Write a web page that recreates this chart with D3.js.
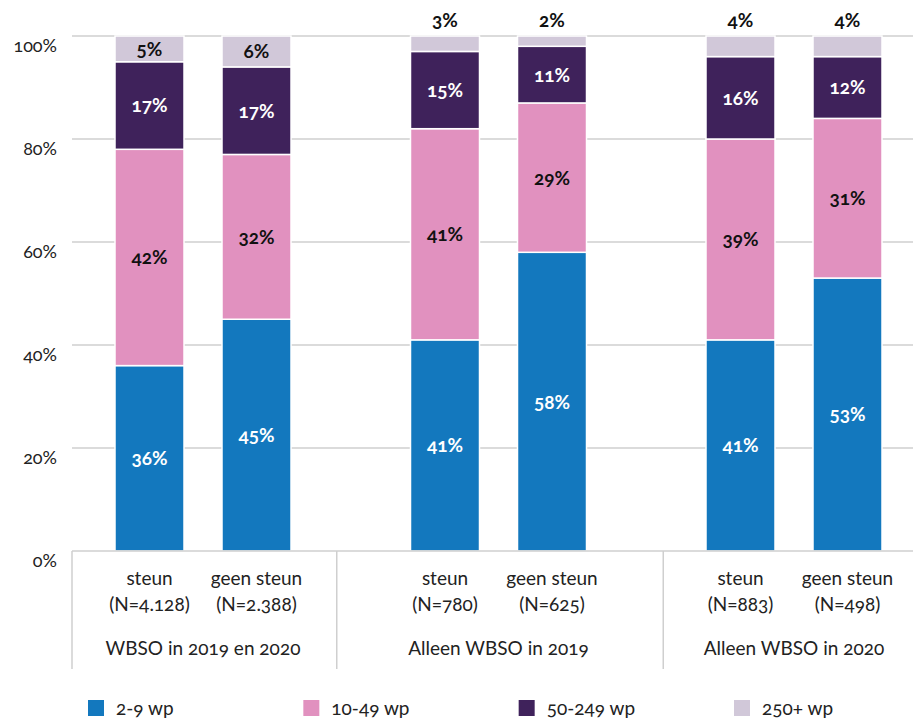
<!DOCTYPE html>
<html><head><meta charset="utf-8">
<script src="https://cdn.jsdelivr.net/npm/d3@7"></script>
<style>body{margin:0;background:#fff} svg{display:block;font-family:Lato, "Open Sans", sans-serif;font-variant-numeric:oldstyle-nums}</style>
</head><body><svg id="c" width="913" height="722"></svg>
<script>
const groups = ["WBSO in 2019 en 2020","Alleen WBSO in 2019","Alleen WBSO in 2020"];
const subCats = ["steun","geen steun"];
const nLabels = ["(N=4.128)","(N=2.388)","(N=780)","(N=625)","(N=883)","(N=498)"];
const seriesNames = ["2-9 wp","10-49 wp","50-249 wp","250+ wp"];
const s2_9 = [36,45,41,58,41,53];
const s10_49 = [42,32,41,29,39,31];
const s50_249 = [17,17,15,11,16,12];
const s250 = [5,6,3,2,4,4];
const yTicks = [0,20,40,60,80,100];
const colors = ["#1378BE","#E191BF","#3F225B","#D1C8D9"];
const labelColors = ["#fff","#111","#fff","#111"];

const series = [s2_9, s10_49, s50_249, s250];
const rows = s2_9.map((_, i) => {
  const r = {i, group: groups[Math.floor(i/2)], sub: subCats[i%2], n: nLabels[i]};
  seriesNames.forEach((k, j) => r[k] = series[j][i]);
  return r;
});
const stacked = d3.stack().keys(seriesNames)(rows);

const svg = d3.select("#c");
const plotLeft = 72, plotRight = 913, y0 = 551, y100 = 36;
const y = d3.scaleLinear().domain([0,100]).range([y0, y100]);
const gx = d3.scalePoint().domain(groups).range([203, 794]);
const sx = d3.scalePoint().domain(subCats).range([-53.5, 53.5]);
const barW = 69;
const xc = d => gx(d.group) + sx(d.sub);
const grid = "#cfcfcf";
const fs = 19;

// gridlines
svg.append("g").selectAll("line").data(yTicks.filter(t => t > 0)).join("line")
  .attr("x1", plotLeft).attr("x2", plotRight)
  .attr("y1", d => y(d)).attr("y2", d => y(d))
  .attr("stroke", grid).attr("stroke-width", 1.5);

// y labels
svg.append("g").selectAll("text").data(yTicks).join("text")
  .attr("x", 57).attr("y", d => y(d) + 11)
  .attr("text-anchor", "end").attr("dominant-baseline", "middle")
  .attr("font-size", 18).attr("fill", "#222")
  .text(d => d + "%");

// bars
const layer = svg.append("g").selectAll("g").data(stacked).join("g")
  .attr("fill", (d, j) => colors[j]);
layer.selectAll("rect").data(d => d).join("rect")
  .attr("x", d => xc(d.data) - barW/2)
  .attr("width", barW)
  .attr("y", d => y(d[1]))
  .attr("height", d => y(d[0]) - y(d[1]))
  .attr("stroke", "#fff").attr("stroke-width", 1.5);

// value labels
stacked.forEach((s, j) => {
  svg.append("g").selectAll("text").data(s).join("text")
    .attr("x", d => xc(d.data))
    .attr("y", d => {
      const v = d[1] - d[0];
      return v < 5 ? y(d[1]) - 14 : (y(d[0]) + y(d[1])) / 2 + 2;
    })
    .attr("text-anchor", "middle").attr("dominant-baseline", "middle")
    .attr("font-size", fs).attr("font-weight", "bold")
    .attr("fill", d => (d[1] - d[0]) < 5 ? "#111" : labelColors[j])
    .text(d => (d[1] - d[0]) + "%");
});

// bottom axis line
svg.append("line").attr("x1", plotLeft).attr("x2", plotRight)
  .attr("y1", y0).attr("y2", y0).attr("stroke", grid).attr("stroke-width", 1.5);

// group separators
const sepX = [plotLeft, (gx(groups[0]) + gx(groups[1]))/2 - 14, (gx(groups[1]) + gx(groups[2]))/2 + 17];
svg.append("g").selectAll("line").data(sepX).join("line")
  .attr("x1", d => d).attr("x2", d => d).attr("y1", y0).attr("y2", 669)
  .attr("stroke", grid).attr("stroke-width", 1.5);

// category labels
const cat = svg.append("g").attr("font-size", fs).attr("fill", "#222").attr("text-anchor", "middle");
cat.selectAll("text.sub").data(rows).join("text").attr("class", "sub")
  .attr("x", d => xc(d)).attr("y", 585).text(d => d.sub);
cat.selectAll("text.n").data(rows).join("text").attr("class", "n")
  .attr("x", d => xc(d)).attr("y", 611).text(d => d.n);
cat.selectAll("text.g").data(groups).join("text").attr("class", "g")
  .attr("x", d => gx(d)).attr("y", 655).text(d => d);

// legend
const legX = d3.scalePoint().domain(seriesNames).range([88, 734]);
const leg = svg.append("g").selectAll("g").data(seriesNames).join("g")
  .attr("transform", d => `translate(${legX(d)},700)`);
leg.append("rect").attr("width", 16).attr("height", 16).attr("fill", (d, j) => colors[j]);
leg.append("text").attr("x", 28).attr("y", 15).attr("font-size", fs).attr("fill", "#222").text(d => d);
</script></body></html>
